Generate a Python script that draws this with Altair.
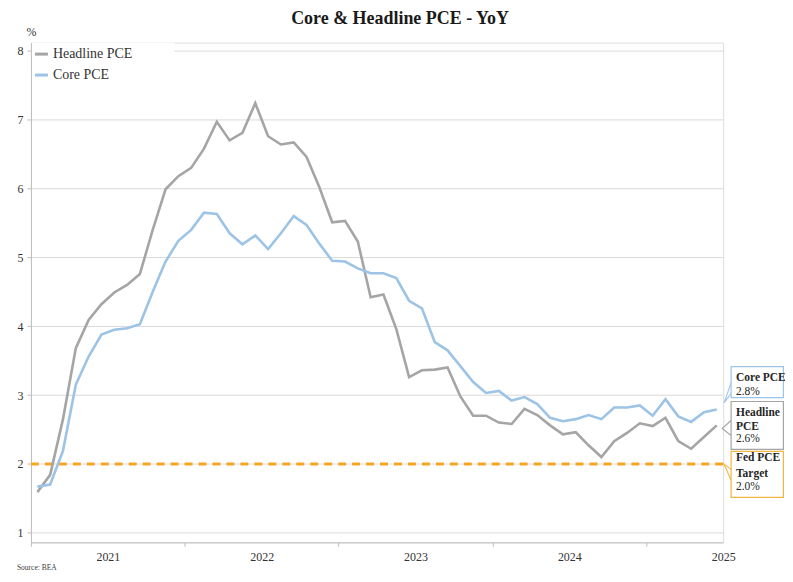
import altair as alt
import pandas as pd

# ---------------- data ----------------
months = [d.strftime("%Y-%m") for d in pd.date_range("2021-01-01", "2025-06-01", freq="MS")]

headline = [1.59, 1.84, 2.65, 3.68, 4.09, 4.32, 4.49, 4.60, 4.76, 5.40,
            5.99, 6.18, 6.30, 6.58, 6.97, 6.70, 6.81, 7.24, 6.76, 6.64,
            6.67, 6.46, 6.02, 5.51, 5.53, 5.23, 4.42, 4.46, 3.96, 3.26,
            3.36, 3.37, 3.40, 2.98, 2.70, 2.70, 2.60, 2.58, 2.80, 2.71,
            2.56, 2.43, 2.46, 2.27, 2.10, 2.33, 2.45, 2.59, 2.55, 2.67,
            2.33, 2.22, 2.39, 2.56]

core = [1.67, 1.70, 2.19, 3.15, 3.56, 3.88, 3.95, 3.97, 4.03, 4.50,
        4.94, 5.24, 5.40, 5.65, 5.63, 5.35, 5.19, 5.32, 5.12, 5.35,
        5.60, 5.47, 5.20, 4.95, 4.94, 4.84, 4.77, 4.77, 4.70, 4.37,
        4.26, 3.77, 3.65, 3.42, 3.19, 3.03, 3.06, 2.92, 2.97, 2.87,
        2.67, 2.62, 2.65, 2.71, 2.65, 2.82, 2.82, 2.85, 2.70, 2.94,
        2.69, 2.61, 2.75, 2.79]

fed_target = [2.0]
series_names = ["Headline PCE", "Core PCE"]
year_labels = ["2021", "2022", "2023", "2024", "2025"]
y_ticks = [1, 2, 3, 4, 5, 6, 7, 8]

callout_titles = ["Core PCE", "Headline\nPCE", "Fed PCE\nTarget"]
callout_values = ["2.8%", "2.6%", "2.0%"]

# ---------------- styling ----------------
SERIF = "Liberation Serif"
GRAY = "#A5A5A5"
BLUE = "#9DC3E6"
ORANGE = "#F5A623"
BOX_ORANGE = "#F2B544"
TXT = "#333333"

n = len(months)
idx = list(range(n))

lines_df = pd.DataFrame({
    "i": idx * 2,
    "month": months * 2,
    "value": headline + core,
    "series": [series_names[0]] * n + [series_names[1]] * n,
})

x_scale = alt.Scale(domain=[-0.5, n - 0.5], nice=False, zero=False)
y_scale = alt.Scale(domain=[0.86, 8.12], nice=False, zero=False)

W, H = 694, 501
px_per_month = W / n
year_ticks = [-0.5 + 12 * k for k in range(len(year_labels))]
label_expr = "['" + "','".join(year_labels) + "'][round((datum.value + 0.5) / 12)]"

base_x = alt.X("i:Q", scale=x_scale,
               axis=alt.Axis(values=year_ticks, labelExpr=label_expr,
                             labelOffset=px_per_month * 6, labelFlush=False,
                             grid=False, tickSize=4, labelPadding=5,
                             domainColor="#BFBFBF", tickColor="#BFBFBF",
                             labelFont=SERIF, labelFontSize=12, labelColor=TXT,
                             title=None))
base_y = alt.Y("value:Q", scale=y_scale,
               axis=alt.Axis(values=y_ticks, format="d", grid=True, gridColor="#D9D9D9",
                             domainColor="#BFBFBF", tickColor="#BFBFBF",
                             tickSize=4, labelPadding=4,
                             labelFont=SERIF, labelFontSize=12, labelColor=TXT,
                             title=None))

# white backdrop behind the legend (covers the top gridline like the reference)
legend_bg = alt.Chart(pd.DataFrame({"x": [-0.42], "x2": [10.7], "y": [8.12], "y2": [7.6]})).mark_rect(
    fill="white").encode(
    x=alt.X("x:Q", scale=x_scale), x2="x2:Q",
    y=alt.Y("y:Q", scale=y_scale), y2="y2:Q")

target = alt.Chart(pd.DataFrame({"value": fed_target})).mark_rule(
    color=ORANGE, strokeWidth=3, strokeDash=[8, 6]).encode(y=alt.Y("value:Q", scale=y_scale))

lines = alt.Chart(lines_df).mark_line(strokeWidth=2.6, interpolate="linear").encode(
    x=base_x, y=base_y,
    color=alt.Color("series:N",
                    scale=alt.Scale(domain=series_names, range=[GRAY, BLUE]),
                    legend=alt.Legend(orient="none", legendX=2, legendY=3, title=None,
                                      symbolType="stroke", symbolStrokeWidth=3,
                                      symbolSize=170, labelFont=SERIF, labelFontSize=14,
                                      labelColor=TXT, rowPadding=5, labelOffset=3,
                                      padding=0)),
    order=alt.Order("i:Q"),
)

# unit marker above the value axis
unit = alt.Chart(pd.DataFrame({"x": [-0.45], "y": [8.27], "t": ["%"]})).mark_text(
    font=SERIF, fontSize=12, align="center", baseline="middle", color=TXT).encode(
    x=alt.X("x:Q", scale=x_scale), y=alt.Y("y:Q", scale=y_scale), text="t:N")

# ---------------- callouts (positions in data units) ----------------
box_df = pd.DataFrame({
    "x": [54.12] * 3, "x2": [58.2] * 3,
    "y": [3.413, 2.906, 2.181], "y2": [2.964, 2.210, 1.514],
    "col": [BLUE, GRAY, BOX_ORANGE],
})
boxes = alt.Chart(box_df).mark_rect(fill="white", strokeWidth=1.2).encode(
    x=alt.X("x:Q", scale=x_scale), x2="x2:Q",
    y=alt.Y("y:Q", scale=y_scale), y2="y2:Q",
    stroke=alt.Stroke("col:N", scale=None))

ptr_df = pd.DataFrame({
    "id": [0, 0, 0, 1, 1, 1, 2, 2, 2],
    "o": [0, 1, 2] * 3,
    "x": [54.12, 53.58, 54.12, 54.12, 53.42, 54.12, 54.12, 53.58, 54.12],
    "y": [3.181, 2.891, 3.022, 2.630, 2.514, 2.413, 1.920, 1.993, 1.761],
    "col": [BLUE] * 3 + [GRAY] * 3 + [BOX_ORANGE] * 3,
})
pointers = alt.Chart(ptr_df).mark_line(strokeWidth=1.1).encode(
    x=alt.X("x:Q", scale=x_scale), y=alt.Y("y:Q", scale=y_scale),
    detail="id:N", order="o:Q", stroke=alt.Stroke("col:N", scale=None))

title_rows = []
title_y = [[3.254], [2.746, 2.543], [2.080, 1.848]]
for t, ys in zip(callout_titles, title_y):
    for line, yy in zip(t.split("\n"), ys):
        title_rows.append({"x": 54.5, "y": yy, "t": line})
val_df = pd.DataFrame({"x": [54.5] * 3, "y": [3.051, 2.355, 1.659], "t": callout_values})

box_titles = alt.Chart(pd.DataFrame(title_rows)).mark_text(
    font=SERIF, fontSize=11.5, fontWeight="bold", align="left", baseline="middle",
    color="#262626").encode(x=alt.X("x:Q", scale=x_scale), y=alt.Y("y:Q", scale=y_scale), text="t:N")
box_vals = alt.Chart(val_df).mark_text(
    font=SERIF, fontSize=11.5, align="left", baseline="middle",
    color="#262626").encode(x=alt.X("x:Q", scale=x_scale), y=alt.Y("y:Q", scale=y_scale), text="t:N")

source = alt.Chart(pd.DataFrame({"x": [-1.59], "y": [0.49], "t": ["Source: BEA"]})).mark_text(
    font=SERIF, fontSize=7.5, align="left", baseline="middle", color="#404040").encode(
    x=alt.X("x:Q", scale=x_scale), y=alt.Y("y:Q", scale=y_scale), text="t:N")

chart = alt.layer(
    legend_bg, target, lines, pointers, boxes, box_titles, box_vals, source, unit
).properties(
    width=W, height=H,
    title=alt.TitleParams("Core & Headline PCE - YoY", font=SERIF, fontSize=18,
                          fontWeight="bold", color="#1a1a1a", anchor="middle",
                          dx=23, offset=-2),
    autosize=alt.AutoSizeParams(type="none"),
    padding={"left": 23, "top": 34, "right": 62, "bottom": 31},
).configure_view(stroke=None).configure(background="white", font=SERIF).configure_legend(
    labelFont=SERIF).configure_axis(labelFont=SERIF)

chart.save("out.html", embed_options={"renderer": "svg", "actions": False})
